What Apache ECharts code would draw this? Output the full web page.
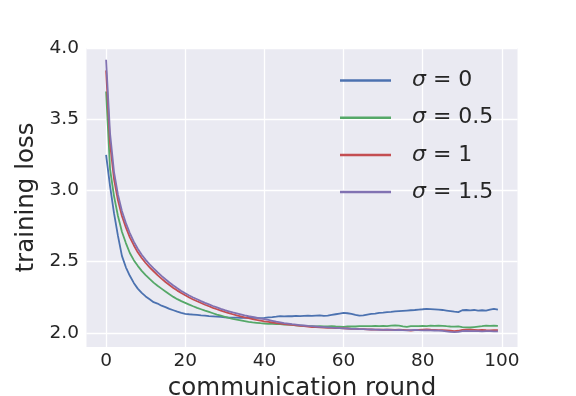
<!DOCTYPE html>
<html>
<head>
<meta charset="utf-8">
<title>training loss</title>
<script src="https://cdn.jsdelivr.net/npm/echarts@6/dist/echarts.min.js"></script>
<style>
html, body { margin: 0; padding: 0; background: #fff; }
#chart { width: 576px; height: 396px; }
</style>
</head>
<body>
<div id="chart"></div>
<script>
// communication rounds 0..99
var rounds = [];
for (var r = 0; r < 100; r++) rounds.push(r);

var xTicks = [0, 20, 40, 60, 80, 100];
var yTicks = [2.0, 2.5, 3.0, 3.5, 4.0];

var sigmaNames = ['σ = 0', 'σ = 0.5', 'σ = 1', 'σ = 1.5'];
var colors = ['#4C72B0', '#55A868', '#C44E52', '#8172B2'];

var lossSigma0 = [
  3.25, 3.03, 2.84, 2.68, 2.54, 2.46, 2.40, 2.35, 2.31, 2.28,
  2.255, 2.235, 2.215, 2.205, 2.19, 2.18, 2.168, 2.158, 2.148, 2.14,
  2.133, 2.13, 2.128, 2.125, 2.122, 2.12, 2.117, 2.115, 2.113, 2.111,
  2.109, 2.107, 2.106, 2.106, 2.105, 2.104, 2.105, 2.106, 2.104, 2.103,
  2.105, 2.108, 2.11, 2.113, 2.117, 2.115, 2.117, 2.116, 2.118, 2.117,
  2.119, 2.12, 2.118, 2.121, 2.122, 2.118, 2.12, 2.125, 2.13, 2.135,
  2.14, 2.137, 2.132, 2.125, 2.12, 2.122, 2.128, 2.132, 2.135, 2.14,
  2.142, 2.145, 2.147, 2.15, 2.152, 2.154, 2.156, 2.158, 2.16, 2.163,
  2.165, 2.168, 2.166, 2.164, 2.162, 2.16, 2.156, 2.152, 2.148, 2.145,
  2.158, 2.16, 2.157, 2.16, 2.155, 2.158, 2.155, 2.162, 2.168, 2.163
];
var lossSigma05 = [
  3.695, 3.15, 2.96, 2.82, 2.71, 2.63, 2.56, 2.51, 2.47, 2.435,
  2.405, 2.378, 2.352, 2.33, 2.31, 2.29, 2.27, 2.252, 2.236, 2.222,
  2.21, 2.198, 2.186, 2.175, 2.165, 2.155, 2.146, 2.137, 2.128, 2.12,
  2.112, 2.104, 2.097, 2.092, 2.087, 2.082, 2.077, 2.073, 2.07, 2.067,
  2.065, 2.063, 2.062, 2.06, 2.06, 2.058, 2.057, 2.055, 2.052, 2.05,
  2.048, 2.047, 2.046, 2.045, 2.046, 2.044, 2.045, 2.046, 2.044, 2.043,
  2.042, 2.044, 2.045, 2.044, 2.046, 2.047, 2.046, 2.047, 2.048, 2.047,
  2.048, 2.047, 2.05, 2.052, 2.05, 2.045, 2.042, 2.046, 2.047, 2.046,
  2.048, 2.047, 2.05, 2.048, 2.05, 2.049, 2.046, 2.044, 2.043, 2.045,
  2.04, 2.038, 2.037, 2.04, 2.043, 2.046, 2.05, 2.048, 2.05, 2.049
];
var lossSigma1 = [
  3.843, 3.33, 3.08, 2.93, 2.82, 2.74, 2.67, 2.615, 2.565, 2.525,
  2.49, 2.46, 2.432, 2.405, 2.38, 2.357, 2.335, 2.315, 2.296, 2.279,
  2.263, 2.248, 2.234, 2.221, 2.209, 2.197, 2.186, 2.175, 2.165, 2.155,
  2.146, 2.138, 2.13, 2.122, 2.115, 2.108, 2.102, 2.096, 2.09, 2.085,
  2.08, 2.076, 2.072, 2.068, 2.064, 2.061, 2.058, 2.055, 2.052, 2.049,
  2.046, 2.043, 2.04, 2.039, 2.038, 2.036, 2.035, 2.034, 2.033, 2.032,
  2.031, 2.03, 2.028, 2.027, 2.026, 2.025, 2.024, 2.023, 2.022, 2.022,
  2.021, 2.022, 2.021, 2.02, 2.022, 2.02, 2.018, 2.016, 2.018, 2.02,
  2.022, 2.023, 2.021, 2.02, 2.019, 2.018, 2.016, 2.014, 2.012, 2.014,
  2.02, 2.022, 2.021, 2.02, 2.019, 2.02, 2.018, 2.017, 2.018, 2.018
];
var lossSigma15 = [
  3.918, 3.40, 3.13, 2.97, 2.855, 2.77, 2.70, 2.64, 2.59, 2.548,
  2.512, 2.48, 2.452, 2.425, 2.40, 2.376, 2.353, 2.332, 2.312, 2.294,
  2.277, 2.262, 2.248, 2.235, 2.222, 2.21, 2.199, 2.188, 2.178, 2.168,
  2.159, 2.151, 2.143, 2.136, 2.129, 2.122, 2.116, 2.111, 2.106, 2.1,
  2.095, 2.09, 2.084, 2.078, 2.073, 2.068, 2.064, 2.06, 2.057, 2.054,
  2.051, 2.048, 2.046, 2.044, 2.042, 2.04, 2.038, 2.036, 2.035, 2.033,
  2.031, 2.03, 2.028, 2.027, 2.026, 2.025, 2.024, 2.023, 2.022, 2.021,
  2.02, 2.021, 2.02, 2.019, 2.02, 2.018, 2.017, 2.019, 2.02, 2.018,
  2.017, 2.018, 2.017, 2.016, 2.015, 2.014, 2.01, 2.006, 2.005, 2.006,
  2.012, 2.013, 2.012, 2.011, 2.012, 2.01, 2.011, 2.012, 2.01, 2.01
];
var allLoss = [lossSigma0, lossSigma05, lossSigma1, lossSigma15];

var FONT = '"DejaVu Sans", sans-serif';
var INK = '#262626';

function pairs(ys) {
  return rounds.map(function (x, i) { return [x, ys[i]]; });
}

var series = allLoss.map(function (ys, k) {
  return {
    name: sigmaNames[k],
    type: 'line',
    data: pairs(ys),
    showSymbol: false,
    symbol: 'none',
    color: colors[k],
    lineStyle: { width: 1.8, color: colors[k] },
    z: 3 + k
  };
});

var chart = echarts.init(document.getElementById('chart'), null, { renderer: 'canvas' });
chart.setOption({
  animation: false,
  backgroundColor: '#ffffff',
  grid: {
    left: 86.5, right: 58.5, top: 48, bottom: 49,
    containLabel: false,
    outerBoundsMode: 'none',
    show: true, backgroundColor: '#EAEAF2', borderWidth: 0
  },
  xAxis: {
    type: 'value',
    min: -4.95, max: 103.95,
    axisLine: { show: false },
    axisTick: { show: false, customValues: xTicks },
    axisLabel: {
      customValues: xTicks, color: INK, fontSize: 18.5, fontFamily: FONT, margin: 5
    },
    splitLine: { show: true, lineStyle: { color: '#ffffff', width: 1.3 } },
    name: 'communication round',
    nameLocation: 'middle',
    nameGap: 29,
    nameTextStyle: { color: INK, fontSize: 24.5, fontFamily: FONT }
  },
  yAxis: {
    type: 'value',
    min: 1.9, max: 4.0,
    axisLine: { show: false },
    axisTick: { show: false, customValues: yTicks },
    axisLabel: {
      customValues: yTicks, color: INK, fontSize: 18.5, fontFamily: FONT, margin: 7.5,
      formatter: function (v) { return v.toFixed(1); }
    },
    splitLine: { show: true, lineStyle: { color: '#ffffff', width: 1.3 } },
    name: 'training loss',
    nameLocation: 'middle',
    nameGap: 47,
    nameTextStyle: { color: INK, fontSize: 24.5, fontFamily: FONT }
  },
  legend: {
    orient: 'vertical',
    left: 340, top: 67.5,
    padding: 0,
    itemWidth: 51, itemHeight: 2.5,
    itemGap: 11.2,
    icon: 'rect',
    data: sigmaNames,
    formatter: function (n) {
      return '{g|}{s|σ}{t|' + n.slice(1) + '}';
    },
    textStyle: {
      color: INK, fontSize: 22, fontFamily: FONT, lineHeight: 26,
      rich: {
        g: { width: 16, lineHeight: 26 },
        s: { fontStyle: 'italic', fontSize: 22, fontFamily: FONT, color: INK, lineHeight: 26 },
        t: { fontSize: 22, fontFamily: FONT, color: INK, lineHeight: 26 }
      }
    }
  },
  series: series
});
</script>
</body>
</html>
